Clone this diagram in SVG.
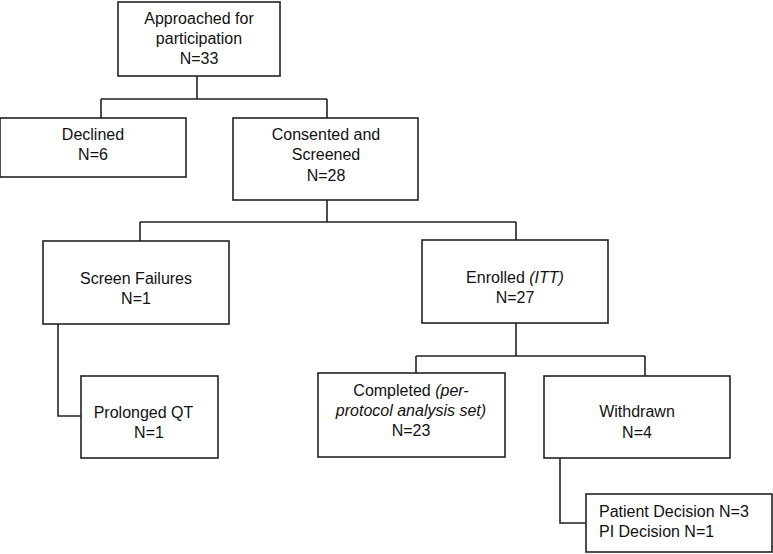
<svg xmlns="http://www.w3.org/2000/svg" width="773" height="554" viewBox="0 0 773 554">
<style>
rect.box{fill:#fff;stroke:#222;stroke-width:1.6}
.conn path{fill:none;stroke:#222;stroke-width:1.6}
text{font-family:"Liberation Sans",Arial,sans-serif;font-size:16px;fill:#111}
.c{text-anchor:middle}
</style>
<rect width="773" height="554" fill="#fff"/>
<g class="conn">
<path d="M197,76 V99 M101,99 H327 M101,99 V118 M327,99 V118"/>
<path d="M327,200 V222 M140,222 H516 M140,222 V241 M516,222 V240"/>
<path d="M58,324 V416 H81"/>
<path d="M516,323 V356 M416,356 H645 M416,356 V373 M645,356 V376"/>
<path d="M560,458 V523 H586"/>
</g>
<g id="approached"><rect class="box" x="118" y="2" width="162" height="74"/>
<text class="c" x="199" y="24">Approached for</text><text class="c" x="199" y="44">participation</text><text class="c" x="199" y="64">N=33</text></g>
<g id="declined"><rect class="box" x="0" y="118" width="186" height="59"/>
<text class="c" x="93" y="140">Declined</text><text class="c" x="93" y="160">N=6</text></g>
<g id="consented"><rect class="box" x="233" y="118" width="185" height="82"/>
<text class="c" x="326" y="140">Consented and</text><text class="c" x="326" y="160">Screened</text><text class="c" x="326" y="181">N=28</text></g>
<g id="screenfail"><rect class="box" x="43" y="241" width="186" height="83"/>
<text class="c" x="136" y="284">Screen Failures</text><text class="c" x="136" y="304">N=1</text></g>
<g id="enrolled"><rect class="box" x="422" y="240" width="186" height="83"/>
<text class="c" x="515" y="283">Enrolled <tspan font-style="italic">(ITT)</tspan></text><text class="c" x="515" y="303">N=27</text></g>
<g id="prolonged"><rect class="box" x="81" y="376" width="137" height="82"/>
<text class="c" x="143.5" y="418">Prolonged QT</text><text class="c" x="149" y="438">N=1</text></g>
<g id="completed"><rect class="box" x="318" y="373" width="187" height="84"/>
<text class="c" x="411" y="396">Completed <tspan font-style="italic">(per-</tspan></text><text class="c" x="411" y="416" font-style="italic">protocol analysis set)</text><text class="c" x="411" y="436">N=23</text></g>
<g id="withdrawn"><rect class="box" x="544" y="376" width="186" height="82"/>
<text class="c" x="637" y="417">Withdrawn</text><text class="c" x="637" y="438">N=4</text></g>
<g id="reasons"><rect class="box" x="586" y="494" width="186" height="58"/>
<text x="599" y="517">Patient Decision N=3</text><text x="599" y="537">PI Decision N=1</text></g>
</svg>
